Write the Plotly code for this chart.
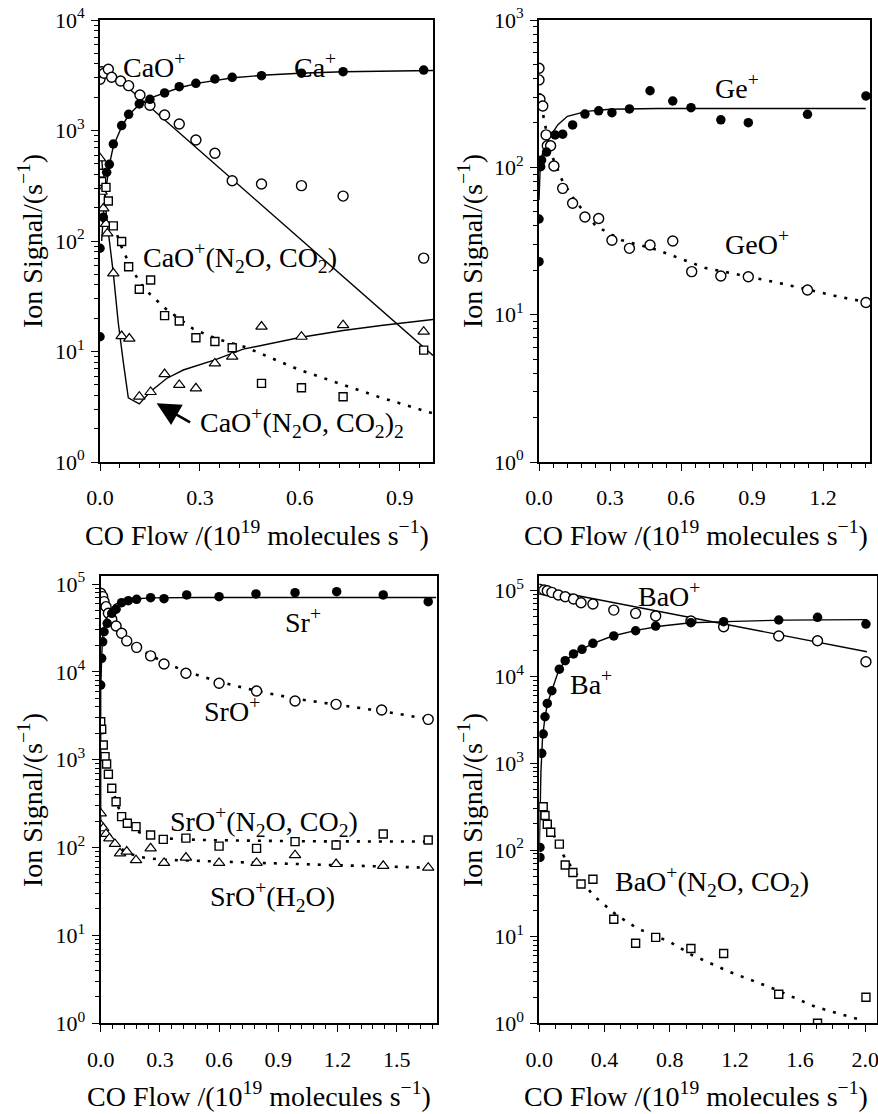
import plotly.graph_objects as go

FONT = "Liberation Serif"

# ---------------- Panel 1 : Ca ----------------
ca_x = [0.0, 0.0, 0.01, 0.02, 0.028, 0.04, 0.065, 0.086, 0.118, 0.15, 0.194, 0.238, 0.288, 0.345, 0.397, 0.485, 0.605, 0.73, 0.972]
ca_y = [13.6, 86, 164, 419, 494, 755, 1107, 1400, 1738, 1915, 2187, 2494, 2674, 2924, 3027, 3131, 3300, 3405, 3522]
ca_fit_x = [0.005, 0.01, 0.02, 0.03, 0.04, 0.065, 0.086, 0.118, 0.15, 0.194, 0.24, 0.3, 0.4, 0.5, 0.6, 0.73, 0.85, 1.0]
ca_fit_y = [100, 170, 330, 520, 720, 1080, 1380, 1720, 1960, 2200, 2450, 2700, 3000, 3180, 3300, 3400, 3450, 3490]

cao_x = [0.0, 0.005, 0.012, 0.025, 0.035, 0.062, 0.086, 0.12, 0.15, 0.194, 0.238, 0.288, 0.345, 0.397, 0.485, 0.605, 0.73, 0.972]
cao_y = [2905, 3405, 3300, 3581, 3030, 2805, 2545, 2096, 1690, 1381, 1145, 820, 622, 351, 328, 317, 255, 70]
cao_fit_x = [0.02, 1.0]
cao_fit_y = [3600, 9.2]

cao1_x = [0.0, 0.005, 0.018, 0.025, 0.04, 0.065, 0.086, 0.118, 0.152, 0.194, 0.238, 0.288, 0.345, 0.397, 0.485, 0.605, 0.73, 0.972]
cao1_y = [410, 345, 306, 230, 137, 99, 58.5, 36.6, 44.4, 21.1, 18.9, 13.3, 12.3, 10.8, 5.15, 4.7, 3.9, 10.3]
cao1_fit_x = [0.04, 0.065, 0.09, 0.12, 0.15, 0.2, 0.28, 0.35, 0.435, 0.53, 0.6, 0.73, 0.835, 1.0]
cao1_fit_y = [140, 88, 60, 42, 33, 24, 16, 13, 11, 8.4, 6.8, 5.0, 3.9, 2.75]

cao2_x = [0.0, 0.003, 0.005, 0.01, 0.018, 0.022, 0.04, 0.065, 0.088, 0.118, 0.152, 0.194, 0.238, 0.288, 0.345, 0.397, 0.485, 0.605, 0.73, 0.972]
cao2_y = [560, 345, 279, 197, 143, 117, 51, 13.8, 13.1, 3.9, 4.3, 6.25, 4.98, 4.64, 7.8, 8.97, 16.8, 13.6, 17.3, 15.1]
cao2_fit_x = [0.005, 0.02, 0.04, 0.055, 0.07, 0.085, 0.118, 0.15, 0.2, 0.25, 0.345, 0.43, 0.6, 0.73, 0.85, 1.0]
cao2_fit_y = [560, 160, 51, 18, 8, 3.8, 3.35, 4.3, 5.7, 6.8, 8.4, 10.5, 13.4, 15.5, 17.3, 19.5]

# ---------------- Panel 2 : Ge ----------------
ge_x = [0.0, 0.0, 0.007, 0.011, 0.032, 0.068, 0.1, 0.142, 0.194, 0.252, 0.308, 0.382, 0.469, 0.565, 0.642, 0.768, 0.884, 1.134, 1.381]
ge_y = [22.9, 44.6, 101, 112, 127, 166, 168, 194, 230, 242, 235, 249, 331, 282, 254, 210, 201, 229, 305]
ge_fit_x = [0.0, 0.005, 0.015, 0.03, 0.05, 0.08, 0.12, 0.2, 0.3, 0.5, 1.0, 1.38]
ge_fit_y = [60, 100, 125, 145, 165, 195, 222, 240, 248, 251, 251, 251]

geo_x = [0.0, 0.0, 0.004, 0.016, 0.03, 0.035, 0.049, 0.063, 0.1, 0.142, 0.194, 0.252, 0.308, 0.382, 0.469, 0.565, 0.645, 0.768, 0.884, 1.134, 1.381]
geo_y = [470, 392, 290, 261, 166, 140, 140, 102, 72, 57, 46, 45, 32, 28.2, 29.7, 31.6, 19.6, 18.3, 18.1, 14.7, 12.1]
geo_fit_x = [0.004, 0.02, 0.05, 0.1, 0.15, 0.24, 0.35, 0.5, 0.7, 1.0, 1.27, 1.38]
geo_fit_y = [318, 215, 125, 80, 60, 40, 32, 27.5, 20.8, 16.6, 13.2, 12.2]

# ---------------- Panel 3 : Sr ----------------
sr_x = [0.0, 0.005, 0.01, 0.017, 0.033, 0.056, 0.078, 0.106, 0.14, 0.182, 0.253, 0.321, 0.436, 0.6, 0.787, 0.985, 1.196, 1.432, 1.66]
sr_y = [7080, 14260, 22000, 28600, 35700, 46400, 51600, 61300, 64600, 67000, 69900, 68000, 75000, 71800, 77000, 79600, 81800, 75000, 62900]
sr_fit_x = [0.0, 0.0, 0.005, 0.01, 0.02, 0.04, 0.07, 0.1, 0.15, 0.25, 0.5, 1.0, 1.7]
sr_fit_y = [200, 6000, 15000, 25000, 36000, 48000, 58000, 63000, 67000, 69500, 70300, 70300, 70300]

sro_x = [0.0, 0.01, 0.017, 0.027, 0.039, 0.056, 0.078, 0.106, 0.132, 0.182, 0.253, 0.321, 0.432, 0.6, 0.79, 0.985, 1.193, 1.424, 1.66]
sro_y = [78400, 71800, 63000, 55200, 46400, 39700, 33300, 27500, 22500, 19000, 15200, 12300, 9640, 7420, 6060, 4660, 4270, 3680, 2880]
sro_fit_x = [0.0, 0.03, 0.06, 0.1, 0.15, 0.25, 0.35, 0.45, 0.6, 0.8, 1.0, 1.2, 1.45, 1.66]
sro_fit_y = [80000, 52000, 39000, 29000, 21500, 15500, 12000, 9800, 7700, 6000, 4900, 4200, 3500, 2900]

sro1_x = [0.0, 0.005, 0.013, 0.022, 0.03, 0.039, 0.056, 0.078, 0.106, 0.135, 0.179, 0.253, 0.317, 0.432, 0.6, 0.79, 0.985, 1.193, 1.432, 1.66]
sro1_y = [2710, 2220, 1470, 1083, 894, 682, 473, 333, 225, 189, 173, 139, 124, 128, 104, 98, 117, 107, 143, 122]
sro1_fit_x = [0.0, 0.02, 0.04, 0.06, 0.08, 0.1, 0.13, 0.17, 0.22, 0.3, 0.5, 1.0, 1.66]
sro1_fit_y = [2800, 1200, 700, 460, 330, 250, 195, 160, 140, 128, 122, 118, 117]

sroh_x = [0.0, 0.0, 0.013, 0.027, 0.044, 0.072, 0.098, 0.132, 0.179, 0.253, 0.321, 0.432, 0.6, 0.79, 0.985, 1.193, 1.432, 1.66]
sroh_y = [245, 181, 166, 143, 127, 110, 86, 90, 72, 98, 67, 77, 67, 67, 82, 65, 62, 59]
sroh_fit_x = [0.0, 0.03, 0.06, 0.1, 0.15, 0.2, 0.3, 0.5, 0.8, 1.2, 1.66]
sroh_fit_y = [185, 145, 118, 98, 85, 78, 73, 70, 67, 63, 59]

# ---------------- Panel 4 : Ba ----------------
bao_x = [0.0, 0.029, 0.049, 0.077, 0.117, 0.159, 0.21, 0.256, 0.329, 0.457, 0.591, 0.714, 0.93, 1.131, 1.469, 1.707, 2.004]
bao_y = [102000, 100000, 98000, 94000, 87500, 83700, 78800, 71300, 68900, 58700, 53800, 50100, 43900, 37700, 29500, 26000, 14900]
bao_fit_x = [0.0, 2.01]
bao_fit_y = [105000, 19400]

ba_x = [0.004, 0.004, 0.015, 0.024, 0.035, 0.049, 0.077, 0.123, 0.159, 0.21, 0.262, 0.329, 0.457, 0.591, 0.714, 0.93, 1.131, 1.469, 1.707, 2.004]
ba_y = [107, 82, 1306, 2180, 3450, 4920, 6880, 12200, 15300, 18300, 20700, 24300, 29500, 33900, 38400, 42000, 43100, 45100, 48400, 40500]
ba_fit_x = [0.0, 0.01, 0.02, 0.035, 0.05, 0.077, 0.12, 0.16, 0.21, 0.26, 0.33, 0.45, 0.6, 0.75, 0.93, 1.2, 1.5, 2.01]
ba_fit_y = [100, 800, 2000, 3400, 4900, 7000, 12000, 15300, 18300, 20700, 24300, 29500, 34500, 38500, 42000, 43500, 45000, 45500]

bao1_x = [0.0, 0.024, 0.035, 0.049, 0.07, 0.123, 0.159, 0.206, 0.256, 0.329, 0.457, 0.591, 0.714, 0.93, 1.131, 1.469, 1.707, 2.004]
bao1_y = [316, 316, 250, 198, 160, 117, 67, 55, 40.5, 45.9, 15.9, 8.4, 9.8, 7.3, 6.4, 2.16, 1.0, 2.0]
bao1_fit_x = [0.0, 0.05, 0.1, 0.147, 0.2, 0.33, 0.473, 0.6, 0.8, 0.94, 1.165, 1.43, 1.694, 1.96]
bao1_fit_y = [330, 210, 130, 87.5, 62, 30, 17.8, 12.5, 8.7, 6.1, 3.94, 2.54, 1.55, 1.11]

# ---------------- styling helpers ----------------
DOT = dict(color="black", width=2.6, dash="3px,8px")
SOLID = dict(color="black", width=1.4)

def filled(x, y, ax):
    return go.Scatter(x=x, y=y, mode="markers", xaxis="x" + ax, yaxis="y" + ax,
                      marker=dict(symbol="circle", size=9.5, color="black"), showlegend=False)

def opencirc(x, y, ax):
    return go.Scatter(x=x, y=y, mode="markers", xaxis="x" + ax, yaxis="y" + ax,
                      marker=dict(symbol="circle", size=10, color="white",
                                  line=dict(color="black", width=1.4)), showlegend=False)

def square(x, y, ax):
    return go.Scatter(x=x, y=y, mode="markers", xaxis="x" + ax, yaxis="y" + ax,
                      marker=dict(symbol="square", size=8, color="white",
                                  line=dict(color="black", width=1.4)), showlegend=False)

def tri(x, y, ax):
    return go.Scatter(x=x, y=y, mode="markers", xaxis="x" + ax, yaxis="y" + ax,
                      marker=dict(symbol="triangle-up", size=10, color="white",
                                  line=dict(color="black", width=1.2)), showlegend=False)

def line(x, y, ax, style):
    return go.Scatter(x=x, y=y, mode="lines", xaxis="x" + ax, yaxis="y" + ax,
                      line=style, showlegend=False, hoverinfo="skip")

fig = go.Figure()
# panel 1 (axes "" -> x, y)
fig.add_trace(line(ca_fit_x, ca_fit_y, "", SOLID))
fig.add_trace(line(cao_fit_x, cao_fit_y, "", SOLID))
fig.add_trace(line(cao1_fit_x, cao1_fit_y, "", DOT))
fig.add_trace(line(cao2_fit_x, cao2_fit_y, "", SOLID))
fig.add_trace(tri(cao2_x, cao2_y, ""))
fig.add_trace(square(cao1_x, cao1_y, ""))
fig.add_trace(opencirc(cao_x, cao_y, ""))
fig.add_trace(filled(ca_x, ca_y, ""))
# panel 2
fig.add_trace(line(ge_fit_x, ge_fit_y, "2", SOLID))
fig.add_trace(line(geo_fit_x, geo_fit_y, "2", DOT))
fig.add_trace(opencirc(geo_x, geo_y, "2"))
fig.add_trace(filled(ge_x, ge_y, "2"))
# panel 3
fig.add_trace(line(sr_fit_x, sr_fit_y, "3", SOLID))
fig.add_trace(line(sro_fit_x, sro_fit_y, "3", DOT))
fig.add_trace(line(sro1_fit_x, sro1_fit_y, "3", DOT))
fig.add_trace(line(sroh_fit_x, sroh_fit_y, "3", DOT))
fig.add_trace(tri(sroh_x, sroh_y, "3"))
fig.add_trace(square(sro1_x, sro1_y, "3"))
fig.add_trace(opencirc(sro_x, sro_y, "3"))
fig.add_trace(filled(sr_x, sr_y, "3"))
# panel 4
fig.add_trace(line(bao_fit_x, bao_fit_y, "4", SOLID))
fig.add_trace(line(ba_fit_x, ba_fit_y, "4", SOLID))
fig.add_trace(line(bao1_fit_x, bao1_fit_y, "4", DOT))
fig.add_trace(square(bao1_x, bao1_y, "4"))
fig.add_trace(opencirc(bao_x, bao_y, "4"))
fig.add_trace(filled(ba_x, ba_y, "4"))

OFF = 0
W, H = 878, 1114
TICKF = dict(family=FONT, size=22, color="black")

def xax(domain, rng, dtick, minor_dtick, anchor):
    return dict(domain=domain, range=rng, anchor=anchor, dtick=dtick, tick0=0,
                tickformat=".1f", showline=True, linecolor="black", linewidth=1.6,
                mirror=True, ticks="outside", ticklen=7, tickwidth=1.3, tickcolor="black",
                minor=dict(dtick=minor_dtick, tick0=0, ticks="outside", ticklen=4,
                           tickwidth=1, tickcolor="black"),
                showgrid=False, zeroline=False, tickfont=TICKF, ticklabelstandoff=8,
                automargin=False, ticklabeloverflow="allow")

def yax(domain, rng, ndec, anchor):
    vals = [10 ** e for e in range(ndec + 1)]
    txt = ["10<sup>%d</sup>" % e for e in range(ndec + 1)]
    minors = [m * 10 ** e for e in range(ndec + 1) for m in range(2, 10)]
    return dict(domain=domain, range=rng, type="log", anchor=anchor,
                tickmode="array", tickvals=vals, ticktext=txt,
                showline=True, linecolor="black", linewidth=2, mirror=True,
                ticks="outside", ticklen=7, tickwidth=1.3, tickcolor="black",
                minor=dict(tickmode="array", tickvals=minors, ticks="outside",
                           ticklen=4, tickwidth=1, tickcolor="black"),
                showgrid=False, zeroline=False, tickfont=TICKF, ticklabelstandoff=2,
                automargin=False, ticklabeloverflow="allow")

def fx(px):
    return (px - OFF) / W

def fy(py):
    return 1 - (py - OFF) / H

fig.update_layout(
    width=W, height=H, margin=dict(l=0, r=0, t=0, b=0, autoexpand=False),
    paper_bgcolor="white", plot_bgcolor="white",
    font=dict(family=FONT, color="black"),
    xaxis=xax([fx(100), fx(433)], [0, 1.0], 0.3, 0.06, "y"),
    yaxis=yax([fy(462), fy(20)], [0, 4], 4, "x"),
    xaxis2=xax([fx(539), fx(870)], [0, 1.398], 0.3, 0.06, "y2"),
    yaxis2=yax([fy(462), fy(20)], [0, 3], 3, "x2"),
    xaxis3=xax([fx(100.7), fx(436.7)], [0, 1.703], 0.3, 0.06, "y3"),
    yaxis3=yax([fy(1023.3), fy(576)], [0, 5.091], 5, "x3"),
    xaxis4=xax([fx(539.3), fx(876.7)], [0, 2.07], 0.4, 0.1, "y4"),
    yaxis4=yax([fy(1023.3), fy(576)], [0, 5.162], 5, "x4"),
)

LAB = dict(family=FONT, size=28, color="black")
ann = []

def lab(text, x, ly, ax):
    ann.append(dict(text=text, x=x, y=ly, xref="x" + ax, yref="y" + ax,
                    showarrow=False, font=LAB, xanchor="center", yanchor="middle"))

lab("CaO<sup>+</sup>", 0.162, 3.584, "")
lab("Ca<sup>+</sup>", 0.645, 3.584, "")
lab("CaO<sup>+</sup>(N<sub>2</sub>O, CO<sub>2</sub>)", 0.42, 1.855, "")
lab("CaO<sup>+</sup>(N<sub>2</sub>O, CO<sub>2</sub>)<sub>2</sub>", 0.606, 0.353, "")
lab("Ge<sup>+</sup>", 0.837, 2.552, "2")
lab("GeO<sup>+</sup>", 0.921, 1.493, "2")
lab("Sr<sup>+</sup>", 1.025, 4.579, "3")
lab("SrO<sup>+</sup>", 0.665, 3.566, "3")
lab("SrO<sup>+</sup>(N<sub>2</sub>O, CO<sub>2</sub>)", 0.828, 2.293, "3")
lab("SrO<sup>+</sup>(H<sub>2</sub>O)", 0.873, 1.44, "3")
lab("BaO<sup>+</sup>", 0.794, 4.944, "4")
lab("Ba<sup>+</sup>", 0.319, 3.929, "4")
lab("BaO<sup>+</sup>(N<sub>2</sub>O, CO<sub>2</sub>)", 1.06, 1.631, "4")

# arrow pointing at the CaO+(N2O,CO2)2 data
ann.append(dict(text="", x=0.17, y=0.531, xref="x", yref="y", showarrow=True,
                ax=35, ay=20, arrowhead=2, arrowsize=1.8, arrowwidth=2.6,
                arrowcolor="black"))

TIT = dict(family=FONT, size=28, color="black")
XT = "CO Flow /(10<sup>19</sup> molecules s<sup>−1</sup>)"
YT = "Ion Signal/(s<sup>−1</sup>)"
for cx, cy in [(257, 533), (696, 533), (259, 1094), (696, 1094)]:
    ann.append(dict(text=XT, x=fx(cx), y=fy(cy), xref="paper", yref="paper",
                    showarrow=False, font=TIT, xanchor="center", yanchor="middle"))
for cx, cy in [(30, 241), (470, 241), (30, 800), (470, 800)]:
    ann.append(dict(text=YT, x=fx(cx), y=fy(cy), xref="paper", yref="paper",
                    showarrow=False, font=TIT, textangle=-90,
                    xanchor="center", yanchor="middle"))

fig.update_layout(annotations=ann)
fig.write_html("out.html",
               config={"displayModeBar": False},
               post_script="document.body.style.margin='0';"
                           "document.body.style.overflow='hidden';")
